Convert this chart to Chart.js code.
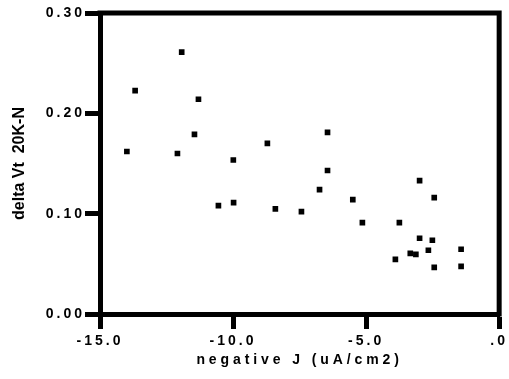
<!DOCTYPE html>
<html>
<head>
<meta charset="utf-8">
<script src="https://cdn.jsdelivr.net/npm/chart.js@4/dist/chart.umd.min.js"></script>
<style>
  html, body { margin: 0; padding: 0; background: #fff; }
  #wrap { width: 509px; height: 379px; position: relative; }
</style>
</head>
<body>
<div id="wrap"><canvas id="c" width="509" height="379"></canvas></div>
<script>
// ---- data ----
const negJ = [-11.93, -13.68, -11.30, -11.45, -13.99, -12.09, -8.71, -9.99, -6.45, -6.45,
              -6.75, -2.99, -5.50, -2.44, -7.43, -5.14, -3.75, -2.99, -2.51, -2.66,
              -1.43, -3.34, -3.13, -3.90, -2.44, -1.43, -10.55, -9.98, -8.41];
const deltaVt = [0.261, 0.2226, 0.214, 0.179, 0.162, 0.160, 0.170, 0.1535, 0.181, 0.143,
                 0.124, 0.133, 0.114, 0.116, 0.102, 0.091, 0.091, 0.0755, 0.0735, 0.0635,
                 0.0645, 0.0605, 0.0595, 0.0545, 0.0465, 0.0475, 0.108, 0.111, 0.1047];
const xTickValues = [-15, -10, -5, 0];
const xTickLabels = ['-15.0', '-10.0', '-5.0', '.0'];
const yTickValues = [0, 0.1, 0.2, 0.3];
const yTickLabels = ['0.00', '0.10', '0.20', '0.30'];
const xTitle = 'negative J (uA/cm2)';
const yTitle = 'delta Vt  20K-N';

const FONT = '"Liberation Sans", Arial, Helvetica, sans-serif';
const SPACING = '3px';

const canvas = document.getElementById('c');
const ctx0 = canvas.getContext('2d');
ctx0.letterSpacing = SPACING;

const framePlugin = {
  id: 'frame',
  beforeDraw(chart) {
    chart.ctx.letterSpacing = SPACING;
    const ys = chart.scales.y;
    if (!ys._patched) {
      const orig = ys.drawTitle.bind(ys);
      ys.drawTitle = function () {
        const c = this.ctx;
        const prev = c.letterSpacing;
        c.letterSpacing = '0px';
        orig();
        c.letterSpacing = prev;
      };
      const xs = chart.scales.x;
      const origX = xs.drawTitle.bind(xs);
      xs.drawTitle = function () {
        const c = this.ctx;
        const prev = c.letterSpacing;
        c.letterSpacing = '3.9px';
        origX();
        c.letterSpacing = prev;
      };
      ys._patched = true;
    }
  },
  afterDraw(chart) {
    const {ctx, chartArea: a} = chart;
    ctx.save();
    ctx.strokeStyle = '#000';
    ctx.lineWidth = 5;
    ctx.lineCap = 'square';
    ctx.beginPath();
    ctx.moveTo(a.left, a.top);
    ctx.lineTo(a.right, a.top);
    ctx.lineTo(a.right, a.bottom);
    ctx.stroke();
    ctx.restore();
  }
};

new Chart(canvas, {
  type: 'scatter',
  data: {
    datasets: [{
      data: negJ.map((x, i) => ({x: x, y: deltaVt[i]})),
      pointStyle: 'rect',
      pointRadius: 4,
      pointHoverRadius: 4,
      pointBorderWidth: 0,
      backgroundColor: '#000',
      borderColor: '#000'
    }]
  },
  options: {
    responsive: false,
    animation: false,
    events: [],
    layout: { padding: { top: 13, right: 9, left: 0, bottom: 0 } },
    plugins: { legend: { display: false }, tooltip: { enabled: false } },
    scales: {
      x: {
        type: 'linear',
        min: -15, max: 0,
        afterBuildTicks: s => { s.ticks = xTickValues.map(v => ({value: v})); },
        afterFit: s => { s.height = 65; },
        grid: { drawOnChartArea: false, drawTicks: true, tickLength: 15, tickWidth: 5, tickColor: '#000' },
        border: { display: true, color: '#000', width: 5 },
        ticks: {
          color: '#000', padding: 4, maxRotation: 0, autoSkip: false,
          font: { family: FONT, size: 14, weight: 'bold' },
          callback: (v) => xTickLabels[xTickValues.indexOf(v)]
        },
        title: {
          display: true, text: xTitle, color: '#000',
          font: { family: FONT, size: 14, weight: 'bold' },
          padding: { top: 0, bottom: 10 }
        }
      },
      y: {
        type: 'linear',
        min: 0, max: 0.3,
        afterBuildTicks: s => { s.ticks = yTickValues.map(v => ({value: v})); },
        afterFit: s => { s.width = 100; },
        grid: { drawOnChartArea: false, drawTicks: true, tickLength: 15, tickWidth: 5, tickColor: '#000' },
        border: { display: true, color: '#000', width: 5 },
        ticks: {
          color: '#000', padding: 0, autoSkip: false,
          font: { family: FONT, size: 14, weight: 'bold' },
          callback: (v) => yTickLabels[yTickValues.indexOf(v)]
        },
        title: {
          display: true, text: yTitle, color: '#000',
          font: { family: FONT, size: 16, weight: 'bold' },
          padding: { top: 10, bottom: 0 }
        }
      }
    }
  },
  plugins: [framePlugin]
});
</script>
</body>
</html>
